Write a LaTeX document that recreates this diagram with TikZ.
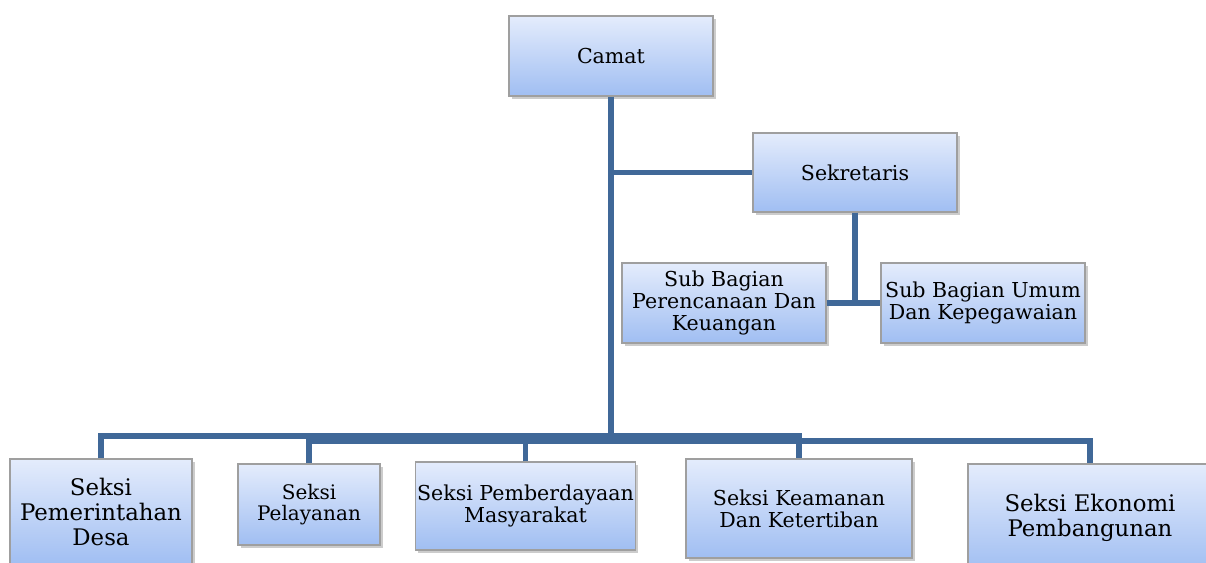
\documentclass[tikz,border=0pt]{standalone}
\usepackage{fontspec}
\setmainfont{DejaVu Serif}
\usetikzlibrary{shadows}
\definecolor{linkblue}{RGB}{64,104,152}
\definecolor{boxtop}{RGB}{228,236,252}
\definecolor{boxbottom}{RGB}{160,190,242}
\begin{document}
\begin{tikzpicture}
		[x=0.02cm,y=-0.02cm,
		unit/.style={rectangle,draw=gray!75,line width=0.8pt,top color=boxtop,bottom color=boxbottom,
			drop shadow={shadow xshift=1.5pt,shadow yshift=-1.5pt,opacity=0.4},
			align=center,inner sep=1pt,font=\fontsize{11.7}{12.6}\selectfont},
		bigunit/.style={unit,font=\fontsize{13}{14}\selectfont},
		link/.style={draw=linkblue,line width=3.1pt}]
		\useasboundingbox (0,0) rectangle (1206,563);

		\node[unit,minimum width=4.08cm,minimum height=1.6cm] (camat) at (611,56) {Camat};
		\node[unit,minimum width=4.08cm,minimum height=1.58cm] (sekretaris) at (855,172.5) {Sekretaris};
		\node[unit,minimum width=4.08cm,minimum height=1.6cm] (perencanaan) at (724,303) {Sub Bagian\\Perencanaan Dan\\Keuangan};
		\node[unit,minimum width=4.08cm,minimum height=1.6cm] (umum) at (983,303) {Sub Bagian Umum\\Dan Kepegawaian};

		\node[bigunit,minimum width=3.64cm,minimum height=2.12cm] (pemerintahan) at (101,512) {Seksi\\Pemerintahan\\Desa};
		\node[unit,font=\fontsize{11.4}{11.8}\selectfont,minimum width=2.84cm,minimum height=1.62cm] (pelayanan) at (309,504.5) {Seksi\\Pelayanan};
		\node[unit,minimum width=4.38cm,minimum height=1.76cm] (pemberdayaan) at (525.5,506) {Seksi Pemberdayaan\\Masyarakat};
		\node[unit,minimum width=4.52cm,minimum height=1.98cm] (keamanan) at (799,508.5) {Seksi Keamanan\\Dan Ketertiban};
		\node[bigunit,minimum width=4.88cm,minimum height=2.16cm] (ekonomi) at (1090,518) {Seksi Ekonomi\\Pembangunan};

		\coordinate (busA) at (611,436);
		\coordinate (busB) at (611,441);

		\draw[link] (camat.south) -- (busA);
		\draw[link] (camat.south |- sekretaris.west) -- (sekretaris.west);
		\draw[link] (sekretaris.south) -- (sekretaris.south |- perencanaan.east);
		\draw[link] (perencanaan.east) -- (umum.west);
		\draw[link] (pemerintahan.north) |- (busA) -| (keamanan.north);
		\draw[link] (pelayanan.north) |- (busB) -| (ekonomi.north);
		\draw[link] (pemberdayaan.north) -- (pemberdayaan.north |- busB);

	\end{tikzpicture}
\end{document}
